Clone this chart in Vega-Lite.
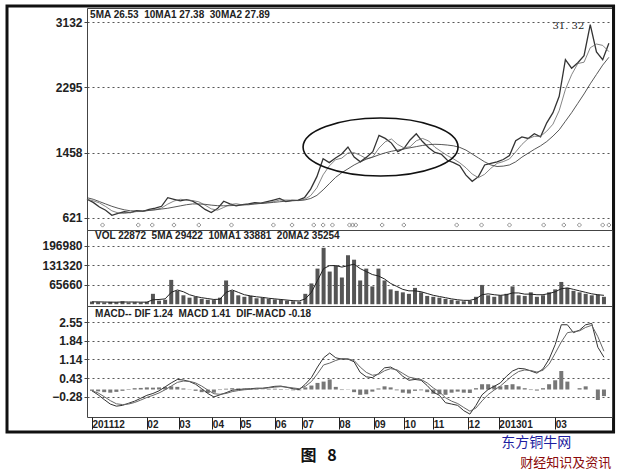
{
"$schema":"https://vega.github.io/schema/vega-lite/v6.json",
"padding":{"left":5,"top":3,"right":5,"bottom":5},
"bounds":"flush",
"spacing":0,
"background":"white",
"resolve":{"scale":{"x":"independent","y":"independent"}},
"config":{
 "view":{"stroke":"#444","strokeWidth":1},
 "axis":{"labelFont":"Liberation Sans","labelFontWeight":"bold","labelFontSize":12,"labelColor":"#222","tickSize":3,"tickColor":"#444","domain":false,"gridDash":[2,3],"gridColor":"#444","gridOpacity":0.9,"labelPadding":2,"labelOverlap":false},
 "text":{"font":"Liberation Sans"}
},
"datasets":{
"d":[
{"t":0,"p":860,"m10":860,"m30":880,"v":9000,"vm":8000,"dif":-0.05,"dea":-0.05,"bar":-0.05},
{"t":4,"p":820,"m10":840,"m30":860,"v":7000,"vm":8000,"dif":-0.2,"dea":-0.13,"bar":-0.07},
{"t":8,"p":760,"m10":813,"m30":830,"v":6000,"vm":7500,"dif":-0.38,"dea":-0.27,"bar":-0.1},
{"t":12,"p":720,"m10":767,"m30":800,"v":8000,"vm":7000,"dif":-0.55,"dea":-0.42,"bar":-0.12},
{"t":16,"p":655,"m10":712,"m30":770,"v":7000,"vm":7000,"dif":-0.63,"dea":-0.54,"bar":-0.09},
{"t":20,"p":680,"m10":685,"m30":745,"v":10000,"vm":7500,"dif":-0.6,"dea":-0.57,"bar":-0.05},
{"t":24,"p":700,"m10":678,"m30":725,"v":6000,"vm":7500,"dif":-0.52,"dea":-0.55,"bar":0.02},
{"t":28,"p":690,"m10":690,"m30":712,"v":7000,"vm":7500,"dif":-0.44,"dea":-0.49,"bar":0.05},
{"t":32,"p":715,"m10":702,"m30":710,"v":6000,"vm":7000,"dif":-0.33,"dea":-0.4,"bar":0.06},
{"t":36,"p":705,"m10":703,"m30":712,"v":8000,"vm":7000,"dif":-0.22,"dea":-0.3,"bar":0.08},
{"t":40,"p":730,"m10":717,"m30":718,"v":35000,"vm":15000,"dif":-0.15,"dea":-0.22,"bar":0.07},
{"t":44,"p":745,"m10":727,"m30":725,"v":12000,"vm":16000,"dif":-0.05,"dea":-0.13,"bar":0.08},
{"t":48,"p":770,"m10":748,"m30":735,"v":15000,"vm":18000,"dif":0.1,"dea":-0.01,"bar":0.1},
{"t":52,"p":880,"m10":798,"m30":745,"v":82000,"vm":40000,"dif":0.25,"dea":0.13,"bar":0.12},
{"t":56,"p":860,"m10":837,"m30":760,"v":45000,"vm":48000,"dif":0.38,"dea":0.27,"bar":0.1},
{"t":60,"p":840,"m10":860,"m30":775,"v":30000,"vm":42000,"dif":0.36,"dea":0.32,"bar":0.04},
{"t":64,"p":855,"m10":852,"m30":790,"v":22000,"vm":32000,"dif":0.3,"dea":0.31,"bar":-0.01},
{"t":68,"p":835,"m10":843,"m30":800,"v":25000,"vm":26000,"dif":0.2,"dea":0.25,"bar":-0.05},
{"t":72,"p":790,"m10":827,"m30":800,"v":18000,"vm":22000,"dif":0.03,"dea":0.13,"bar":-0.1},
{"t":76,"p":730,"m10":785,"m30":795,"v":15000,"vm":19000,"dif":-0.15,"dea":-0.02,"bar":-0.13},
{"t":80,"p":690,"m10":737,"m30":785,"v":14000,"vm":16000,"dif":-0.28,"dea":-0.16,"bar":-0.12},
{"t":84,"p":740,"m10":720,"m30":778,"v":22000,"vm":17000,"dif":-0.2,"dea":-0.18,"bar":-0.02},
{"t":88,"p":835,"m10":755,"m30":776,"v":80000,"vm":40000,"dif":-0.12,"dea":-0.15,"bar":0.03},
{"t":92,"p":800,"m10":792,"m30":778,"v":45000,"vm":48000,"dif":-0.03,"dea":-0.08,"bar":0.05},
{"t":96,"p":775,"m10":803,"m30":782,"v":30000,"vm":40000,"dif":0.0,"dea":-0.04,"bar":0.04},
{"t":100,"p":790,"m10":788,"m30":788,"v":25000,"vm":32000,"dif":0.02,"dea":-0.01,"bar":0.03},
{"t":104,"p":800,"m10":788,"m30":795,"v":28000,"vm":28000,"dif":0.03,"dea":0.01,"bar":0.02},
{"t":108,"p":815,"m10":802,"m30":800,"v":20000,"vm":25000,"dif":0.05,"dea":0.03,"bar":0.02},
{"t":112,"p":810,"m10":808,"m30":806,"v":22000,"vm":23000,"dif":0.05,"dea":0.04,"bar":0.01},
{"t":116,"p":830,"m10":818,"m30":812,"v":18000,"vm":20000,"dif":0.08,"dea":0.06,"bar":0.02},
{"t":120,"p":850,"m10":830,"m30":820,"v":16000,"vm":18000,"dif":0.12,"dea":0.09,"bar":0.03},
{"t":124,"p":870,"m10":850,"m30":828,"v":15000,"vm":16000,"dif":0.13,"dea":0.11,"bar":0.02},
{"t":128,"p":830,"m10":850,"m30":835,"v":12000,"vm":14000,"dif":0.08,"dea":0.09,"bar":-0.01},
{"t":132,"p":845,"m10":848,"m30":840,"v":10000,"vm":12000,"dif":0.03,"dea":0.06,"bar":-0.03},
{"t":136,"p":850,"m10":842,"m30":845,"v":9000,"vm":11000,"dif":0.0,"dea":0.03,"bar":-0.03},
{"t":140,"p":880,"m10":858,"m30":850,"v":35000,"vm":18000,"dif":0.2,"dea":0.12,"bar":0.08},
{"t":144,"p":990,"m10":907,"m30":870,"v":70000,"vm":40000,"dif":0.45,"dea":0.3,"bar":0.15},
{"t":148,"p":1150,"m10":1007,"m30":910,"v":120000,"vm":80000,"dif":0.85,"dea":0.6,"bar":0.25},
{"t":152,"p":1380,"m10":1173,"m30":980,"v":190000,"vm":120000,"dif":1.2,"dea":0.93,"bar":0.3},
{"t":156,"p":1330,"m10":1287,"m30":1060,"v":110000,"vm":130000,"dif":1.38,"dea":1.0,"bar":0.38},
{"t":160,"p":1390,"m10":1367,"m30":1140,"v":130000,"vm":130000,"dif":1.2,"dea":1.1,"bar":0.1},
{"t":164,"p":1440,"m10":1387,"m30":1200,"v":90000,"vm":125000,"dif":1.15,"dea":1.17,"bar":-0.02},
{"t":168,"p":1530,"m10":1453,"m30":1250,"v":165000,"vm":130000,"dif":1.15,"dea":1.16,"bar":-0.01},
{"t":172,"p":1400,"m10":1457,"m30":1300,"v":150000,"vm":135000,"dif":1.05,"dea":1.1,"bar":-0.1},
{"t":176,"p":1340,"m10":1423,"m30":1340,"v":80000,"vm":120000,"dif":0.65,"dea":0.85,"bar":-0.2},
{"t":180,"p":1400,"m10":1380,"m30":1375,"v":120000,"vm":110000,"dif":0.48,"dea":0.65,"bar":-0.18},
{"t":184,"p":1470,"m10":1403,"m30":1400,"v":60000,"vm":100000,"dif":0.45,"dea":0.54,"bar":-0.08},
{"t":188,"p":1680,"m10":1517,"m30":1430,"v":120000,"vm":95000,"dif":0.6,"dea":0.57,"bar":0.04},
{"t":192,"p":1640,"m10":1597,"m30":1455,"v":80000,"vm":85000,"dif":0.82,"dea":0.71,"bar":0.12},
{"t":196,"p":1580,"m10":1633,"m30":1475,"v":50000,"vm":70000,"dif":0.85,"dea":0.79,"bar":0.08},
{"t":200,"p":1470,"m10":1563,"m30":1490,"v":45000,"vm":60000,"dif":0.72,"dea":0.75,"bar":-0.03},
{"t":204,"p":1510,"m10":1520,"m30":1505,"v":40000,"vm":50000,"dif":0.5,"dea":0.61,"bar":-0.12},
{"t":208,"p":1620,"m10":1533,"m30":1520,"v":35000,"vm":45000,"dif":0.35,"dea":0.47,"bar":-0.15},
{"t":212,"p":1700,"m10":1610,"m30":1535,"v":55000,"vm":45000,"dif":0.38,"dea":0.42,"bar":-0.05},
{"t":216,"p":1600,"m10":1640,"m30":1550,"v":40000,"vm":42000,"dif":0.35,"dea":0.38,"bar":-0.03},
{"t":220,"p":1520,"m10":1607,"m30":1560,"v":28000,"vm":36000,"dif":0.15,"dea":0.25,"bar":-0.1},
{"t":224,"p":1460,"m10":1527,"m30":1565,"v":25000,"vm":30000,"dif":-0.1,"dea":0.06,"bar":-0.16},
{"t":228,"p":1440,"m10":1473,"m30":1562,"v":22000,"vm":26000,"dif":-0.22,"dea":-0.09,"bar":-0.18},
{"t":232,"p":1360,"m10":1420,"m30":1555,"v":18000,"vm":22000,"dif":-0.5,"dea":-0.31,"bar":-0.2},
{"t":236,"p":1330,"m10":1377,"m30":1545,"v":15000,"vm":18000,"dif":-0.55,"dea":-0.44,"bar":-0.12},
{"t":240,"p":1290,"m10":1327,"m30":1525,"v":12000,"vm":15000,"dif":-0.6,"dea":-0.53,"bar":-0.08},
{"t":244,"p":1170,"m10":1263,"m30":1490,"v":10000,"vm":13000,"dif":-0.8,"dea":-0.68,"bar":-0.12},
{"t":248,"p":1090,"m10":1183,"m30":1440,"v":12000,"vm":13000,"dif":-0.93,"dea":-0.82,"bar":-0.13},
{"t":252,"p":1150,"m10":1137,"m30":1390,"v":25000,"vm":18000,"dif":-0.6,"dea":-0.7,"bar":0.05},
{"t":256,"p":1300,"m10":1180,"m30":1340,"v":65000,"vm":32000,"dif":-0.2,"dea":-0.43,"bar":0.2},
{"t":260,"p":1320,"m10":1257,"m30":1300,"v":30000,"vm":35000,"dif":0.0,"dea":-0.19,"bar":0.2},
{"t":264,"p":1340,"m10":1320,"m30":1280,"v":25000,"vm":32000,"dif":0.12,"dea":-0.02,"bar":0.15},
{"t":268,"p":1370,"m10":1343,"m30":1285,"v":30000,"vm":30000,"dif":0.25,"dea":0.13,"bar":0.12},
{"t":272,"p":1420,"m10":1377,"m30":1300,"v":35000,"vm":32000,"dif":0.5,"dea":0.33,"bar":0.17},
{"t":276,"p":1610,"m10":1467,"m30":1340,"v":60000,"vm":38000,"dif":0.7,"dea":0.53,"bar":0.2},
{"t":280,"p":1660,"m10":1563,"m30":1400,"v":30000,"vm":38000,"dif":0.8,"dea":0.68,"bar":0.12},
{"t":284,"p":1640,"m10":1637,"m30":1450,"v":28000,"vm":34000,"dif":0.78,"dea":0.74,"bar":0.05},
{"t":288,"p":1700,"m10":1667,"m30":1500,"v":40000,"vm":34000,"dif":0.7,"dea":0.72,"bar":-0.02},
{"t":292,"p":1660,"m10":1667,"m30":1545,"v":25000,"vm":32000,"dif":0.62,"dea":0.66,"bar":-0.04},
{"t":296,"p":1840,"m10":1733,"m30":1600,"v":30000,"vm":32000,"dif":0.78,"dea":0.73,"bar":0.05},
{"t":300,"p":1970,"m10":1823,"m30":1670,"v":40000,"vm":36000,"dif":1.15,"dea":0.96,"bar":0.2},
{"t":304,"p":2180,"m10":1997,"m30":1750,"v":50000,"vm":42000,"dif":1.7,"dea":1.37,"bar":0.35},
{"t":308,"p":2650,"m10":2267,"m30":1860,"v":75000,"vm":52000,"dif":2.45,"dea":1.8,"bar":0.7},
{"t":312,"p":2540,"m10":2457,"m30":1970,"v":55000,"vm":55000,"dif":2.45,"dea":2.15,"bar":0.3},
{"t":316,"p":2610,"m10":2600,"m30":2090,"v":45000,"vm":50000,"dif":2.15,"dea":2.19,"bar":0.0},
{"t":320,"p":2700,"m10":2617,"m30":2210,"v":40000,"vm":45000,"dif":2.25,"dea":2.22,"bar":0.05},
{"t":324,"p":3100,"m10":2803,"m30":2340,"v":35000,"vm":40000,"dif":2.45,"dea":2.35,"bar":0.12},
{"t":328,"p":2750,"m10":2850,"m30":2460,"v":30000,"vm":35000,"dif":2.5,"dea":2.43,"bar":0.0},
{"t":332,"p":2650,"m10":2833,"m30":2580,"v":32000,"vm":32000,"dif":1.6,"dea":2.0,"bar":-0.4},
{"t":336,"p":2860,"m10":2753,"m30":2680,"v":25000,"vm":30000,"dif":1.22,"dea":1.45,"bar":-0.25}
],
"sig":[{"t":10},{"t":33},{"t":42},{"t":56},{"t":72},{"t":93},{"t":120},{"t":132},{"t":146},{"t":152},{"t":158},{"t":169},{"t":171},{"t":173},{"t":190},{"t":204},{"t":238},{"t":254},{"t":272},{"t":294},{"t":307},{"t":317},{"t":332},{"t":336}],
"pk":[{"t":324,"p":3132,"lab":"31. 32"}]
},
"vconcat":[
{
 "width":525,"height":222,
 "layer":[
  {"data":{"name":"d"},"mark":{"type":"line","color":"#333","strokeWidth":1.3},
   "encoding":{"x":{"field":"t","type":"quantitative","scale":{"domain":[0,338],"nice":false,"zero":false},"axis":null},
   "y":{"field":"p","type":"quantitative","scale":{"domain":[466,3312],"nice":false,"zero":false},"axis":{"values":[621,1458,2295,3132],"tickCount":20,"format":"d","grid":true,"title":null,"labelOverlap":false}}}},
  {"data":{"name":"d"},"mark":{"type":"line","color":"#666","strokeWidth":0.8},
   "encoding":{"x":{"field":"t","type":"quantitative"},"y":{"field":"m10","type":"quantitative"}}},
  {"data":{"name":"d"},"mark":{"type":"line","color":"#444","strokeWidth":0.9},
   "encoding":{"x":{"field":"t","type":"quantitative"},"y":{"field":"m30","type":"quantitative"}}},
  {"data":{"name":"sig"},"mark":{"type":"point","shape":"diamond","size":18,"color":"#444","strokeWidth":0.8},
   "encoding":{"x":{"field":"t","type":"quantitative"},"y":{"datum":530}}},
  {"data":{"name":"pk"},"mark":{"type":"text","align":"right","baseline":"middle","dx":-6,"dy":4,"fontSize":10,"font":"DejaVu Serif","color":"#222"},
   "encoding":{"x":{"field":"t","type":"quantitative"},"y":{"field":"p","type":"quantitative"},"text":{"field":"lab"}}},
  {"data":{"values":[{}]},"mark":{"type":"point","shape":"M-1,0A1,0.374,0,1,0,1,0A1,0.374,0,1,0,-1,0Z","size":24025,"filled":false,"color":"#111","strokeWidth":1.6,"opacity":1},
   "encoding":{"x":{"datum":189},"y":{"datum":1530}}},
  {"data":{"values":[{}]},"mark":{"type":"text","align":"left","baseline":"middle","fontSize":10,"fontWeight":"bold","color":"#222","text":"5MA 26.53\u00a0\u00a010MA1 27.38\u00a0\u00a030MA2 27.89"},
   "encoding":{"x":{"datum":2},"y":{"datum":3222}}},
  {"data":{"values":[{}]},"mark":{"type":"rect","filled":false,"stroke":"#111","strokeWidth":3,"clip":false},
   "encoding":{"x":{"datum":-51.5},"x2":{"datum":339},"y":{"datum":3338},"y2":{"datum":-2124}}}
 ]
},
{
 "width":525,"height":76,
 "layer":[
  {"data":{"name":"d"},"mark":{"type":"bar","size":4,"color":"#555"},
   "encoding":{"x":{"field":"t","type":"quantitative","scale":{"domain":[0,338],"nice":false,"zero":false},"axis":null},
   "y":{"field":"v","type":"quantitative","scale":{"domain":[-6000,250000],"nice":false},"axis":{"values":[65660,131320,196980],"tickCount":20,"format":"d","grid":true,"title":null,"labelOverlap":false}}}},
  {"data":{"name":"d"},"mark":{"type":"line","color":"#222","strokeWidth":1},
   "encoding":{"x":{"field":"t","type":"quantitative"},"y":{"field":"vm","type":"quantitative"}}},
  {"data":{"values":[{}]},"mark":{"type":"text","align":"left","baseline":"middle","fontSize":10,"fontWeight":"bold","color":"#222","text":"VOL 22872\u00a0\u00a05MA 29422\u00a0\u00a010MA1 33881\u00a0\u00a020MA2 35254"},
   "encoding":{"x":{"datum":2},"y":{"datum":230000}}}
 ]
},
{
 "width":525,"height":111,
 "layer":[
  {"data":{"name":"d"},"mark":{"type":"bar","size":4,"color":"#777"},
   "encoding":{"x":{"field":"t","type":"quantitative","scale":{"domain":[0,338],"nice":false,"zero":false},
     "axis":{"values":[0,36,57,79,97,120,138,162,185,205,224,247,267,304],"tickCount":30,"labelExpr":"['201112','02','03','04','05','06','07','08','09','10','11','12','201301','03'][indexof([0,36,57,79,97,120,138,162,185,205,224,247,267,304], datum.value)]","tickSize":12,"tickColor":"#222","labelAlign":"left","labelPadding":-10,"labelDx":2,"labelFontSize":10,"labelOverlap":false,"labelFlush":false,"labelBound":false,"grid":false,"title":null}},
   "y":{"field":"bar","type":"quantitative","scale":{"domain":[-1.04,3.16],"nice":false,"zero":false},"axis":{"values":[-0.28,0.43,1.14,1.84,2.55],"tickCount":20,"format":".2f","grid":true,"title":null,"labelOverlap":false}}}},
  {"data":{"name":"d"},"mark":{"type":"line","color":"#333","strokeWidth":1},
   "encoding":{"x":{"field":"t","type":"quantitative"},"y":{"field":"dif","type":"quantitative"}}},
  {"data":{"name":"d"},"mark":{"type":"line","color":"#666","strokeWidth":1},
   "encoding":{"x":{"field":"t","type":"quantitative"},"y":{"field":"dea","type":"quantitative"}}},
  {"data":{"values":[{}]},"mark":{"type":"text","align":"left","baseline":"middle","fontSize":10,"fontWeight":"bold","color":"#222","text":"MACD-- DIF 1.24\u00a0\u00a0MACD 1.41\u00a0\u00a0DIF-MACD -0.18"},
   "encoding":{"x":{"datum":2},"y":{"datum":2.86}}},
  {"data":{"values":[{}]},"mark":{"type":"text","align":"center","baseline":"middle","fontSize":16,"fontWeight":"bold","font":"Noto Sans CJK SC","color":"#111","text":"图\u00a0\u00a0\u00a08"},
   "encoding":{"x":{"datum":148.7},"y":{"datum":-2.515}}},
  {"data":{"values":[{}]},"mark":{"type":"text","align":"center","baseline":"middle","fontSize":14,"font":"Noto Sans CJK SC","color":"#1c1ca0","text":"东方铜牛网"},
   "encoding":{"x":{"datum":291.6},"y":{"datum":-2.02}}},
  {"data":{"values":[{}]},"mark":{"type":"text","align":"center","baseline":"middle","fontSize":13,"font":"Noto Sans CJK SC","color":"#8b0a0a","text":"财经知识及资讯"},
   "encoding":{"x":{"datum":311},"y":{"datum":-2.78}}}
 ]
}
]
}
